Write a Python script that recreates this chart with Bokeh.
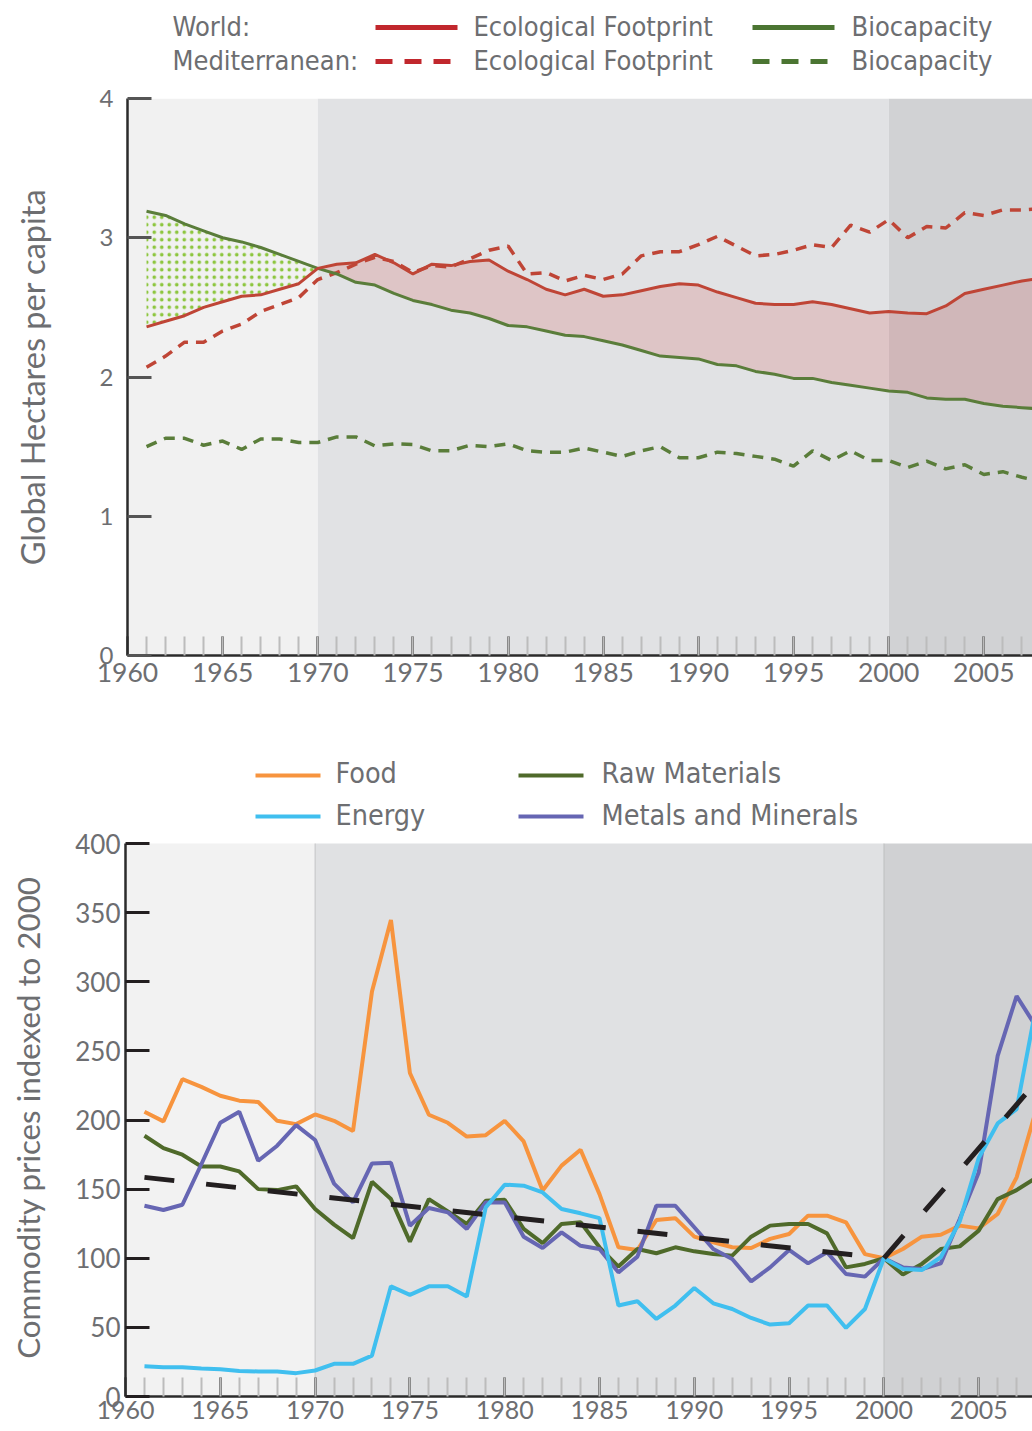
import math
from bokeh.plotting import figure
from bokeh.models import Range1d, BoxAnnotation, SingleIntervalTicker
from bokeh.layouts import column, row
from bokeh.embed import file_html
from bokeh.resources import INLINE
from bokeh.core.properties import value

# ---------------- data ----------------
years = list(range(1961, 2009))

world_bc = [3.19, 3.16, 3.10, 3.05, 3.00, 2.97, 2.93, 2.88, 2.83, 2.78,
            2.74, 2.68, 2.66, 2.60, 2.55, 2.52, 2.48, 2.46, 2.42, 2.37,
            2.36, 2.33, 2.30, 2.29, 2.26, 2.23, 2.19, 2.15, 2.14, 2.13,
            2.09, 2.08, 2.04, 2.02, 1.99, 1.99, 1.96, 1.94, 1.92, 1.90,
            1.89, 1.85, 1.84, 1.84, 1.81, 1.79, 1.78, 1.77]
world_ef = [2.36, 2.40, 2.44, 2.50, 2.54, 2.58, 2.59, 2.63, 2.67, 2.78,
            2.81, 2.82, 2.88, 2.82, 2.74, 2.81, 2.80, 2.83, 2.84, 2.76,
            2.70, 2.63, 2.59, 2.63, 2.58, 2.59, 2.62, 2.65, 2.67, 2.66,
            2.61, 2.57, 2.53, 2.52, 2.52, 2.54, 2.52, 2.49, 2.46, 2.47,
            2.46, 2.455, 2.51, 2.60, 2.63, 2.66, 2.69, 2.71]
med_ef = [2.07, 2.15, 2.25, 2.25, 2.33, 2.38, 2.47, 2.52, 2.57, 2.70,
          2.75, 2.81, 2.86, 2.83, 2.75, 2.80, 2.79, 2.85, 2.91, 2.94,
          2.74, 2.75, 2.69, 2.73, 2.70, 2.74, 2.87, 2.90, 2.90, 2.95,
          3.01, 2.94, 2.87, 2.88, 2.91, 2.95, 2.93, 3.09, 3.04, 3.13,
          3.00, 3.08, 3.07, 3.18, 3.16, 3.20, 3.20, 3.21]
med_bc = [1.50, 1.56, 1.56, 1.51, 1.54, 1.48, 1.555, 1.555, 1.53, 1.53,
          1.57, 1.57, 1.505, 1.52, 1.515, 1.47, 1.47, 1.51, 1.50, 1.52,
          1.47, 1.46, 1.46, 1.49, 1.46, 1.43, 1.47, 1.50, 1.42, 1.42,
          1.46, 1.45, 1.43, 1.41, 1.36, 1.47, 1.40, 1.47, 1.40, 1.40,
          1.35, 1.395, 1.34, 1.37, 1.30, 1.32, 1.28, 1.25]

food = [206, 199, 229.5, 224, 217.5, 214, 213, 199.4, 197, 204,
        199.4, 192, 293, 344.6, 234, 203.8, 198, 188, 189, 199.4,
        184.5, 149, 167, 178.5, 146.4, 107.9, 106, 127.7, 129, 115.6,
        111.5, 108, 107.4, 114, 117.5, 130.8, 130.8, 126, 103, 100,
        106.7, 115.6, 117, 123.6, 121.6, 132, 158.5, 206]
energy = [21.9, 21.2, 21.2, 20.2, 19.7, 18.5, 18.1, 18.1, 16.9, 18.8,
          23.6, 23.6, 29.6, 79.7, 73.5, 79.7, 79.7, 72.3, 136.8, 153.2,
          152.5, 147.6, 135.6, 132.5, 129, 65.8, 68.9, 56.1, 65.8, 78.5,
          67.4, 63.3, 56.8, 52, 53, 65.8, 65.8, 49.6, 63.3, 100,
          92.2, 91.5, 100.7, 126.7, 172.5, 197.5, 207.9, 280]
metals = [138, 134.9, 138.7, 168, 198, 206, 170.5, 181.4, 196.3, 185.5,
          154, 140.4, 168.6, 169, 123.5, 136.3, 133.2, 121.2, 140.4, 140.4,
          115.6, 107.4, 118.7, 109, 106.7, 89.8, 101.2, 138, 138, 122.4,
          106.7, 99.5, 83.3, 93.4, 106, 96.3, 104.3, 88.6, 86.7, 100,
          93.4, 92.2, 96.3, 128.4, 162, 246.4, 289.7, 268]
raw = [188.6, 179.7, 174.9, 166.4, 166.4, 162.8, 150, 149.3, 152, 135.6,
       124.3, 114.6, 155.3, 142.8, 112, 142.8, 133.9, 124.8, 141.6, 142.3,
       121.2, 111, 124.8, 126, 107.9, 94, 106.7, 103.6, 107.9, 105,
       103, 101.9, 115.6, 123.6, 124.8, 124.8, 118, 93.4, 95.9, 100,
       88.2, 95.9, 106.7, 108.6, 120, 142.8, 149.3, 158]
trend_years = [1961, 2000, 2008]
trend_vals = [158.5, 100, 227]

legend_rows = ["World:", "Mediterranean:"]
legend_series = ["Ecological Footprint", "Biocapacity"]
commodities = ["Food", "Energy", "Raw Materials", "Metals and Minerals"]
top_ylabel = "Global Hectares per capita"
bottom_ylabel = "Commodity prices indexed to 2000"

# ---------------- styles ----------------
GRAY = "#6d6e71"
RED = "#bf4536"
GREEN = "#5a7d3a"
RED_LEG = "#c1272d"
GREEN_LEG = "#4b7532"
C_FOOD = "#f7943e"
C_ENERGY = "#40bfef"
C_RAW = "#4f6a2a"
C_METAL = "#6666b3"
TICK_FONT = "Lato"
LEG_FONT = "'Liberation Sans Narrow', 'DejaVu Sans Condensed', Lato"
W = 1032
LABW = 60  # width of the strip carrying the bottom y-axis title


def blank_fig(w, h, y0=0):
    p = figure(width=w, height=h, x_range=Range1d(0, w), y_range=Range1d(y0 + h, y0),
               x_axis_type=None, y_axis_type=None, toolbar_location=None,
               output_backend="svg", min_border=0, frame_align=False)
    p.outline_line_color = None
    p.grid.visible = False
    return p


# ---------- top legend ----------
L1 = blank_fig(W, 78)
L1.text(x=[172, 172], y=[26, 60], text=legend_rows, text_font=value(LEG_FONT),
        text_font_size="27px", text_color=GRAY, text_baseline="middle", text_align="left")
L1.text(x=[473, 473, 851, 851], y=[26, 60, 26, 60],
        text=[legend_series[0], legend_series[0], legend_series[1], legend_series[1]],
        text_font=value(LEG_FONT), text_font_size="27px", text_color=GRAY,
        text_baseline="middle", text_align="left")
L1.segment(x0=[375], y0=[27], x1=[457], y1=[27], line_color=RED_LEG, line_width=5)
L1.segment(x0=[375], y0=[61], x1=[457], y1=[61], line_color=RED_LEG, line_width=5, line_dash="17 12")
L1.segment(x0=[752], y0=[27], x1=[834], y1=[27], line_color=GREEN_LEG, line_width=5)
L1.segment(x0=[752], y0=[61], x1=[834], y1=[61], line_color=GREEN_LEG, line_width=5, line_dash="17 12")


def style_axes(p, xfont, yfont, ystand, ytick_color):
    p.outline_line_color = None
    p.grid.visible = False
    xa = p.xaxis[0]
    xa.ticker = SingleIntervalTicker(interval=5, num_minor_ticks=5)
    xa.major_tick_in = 19
    xa.major_tick_out = 0
    xa.minor_tick_in = 19
    xa.minor_tick_out = 0
    xa.major_tick_line_color = "#2b2b2b"
    xa.major_tick_line_width = 2.5
    xa.minor_tick_line_color = "#bcbcbc"
    xa.minor_tick_line_width = 2
    xa.axis_line_color = "#2b2b2b"
    xa.axis_line_width = 2.5
    xa.major_label_text_font = TICK_FONT
    xa.major_label_text_font_size = xfont
    xa.major_label_text_color = GRAY
    ya = p.yaxis[0]
    ya.major_tick_in = 24
    ya.major_tick_out = 0
    ya.minor_tick_line_color = None
    ya.major_tick_line_color = ytick_color
    ya.major_tick_line_width = 3
    ya.axis_line_color = "#2b2b2b"
    ya.axis_line_width = 2.5
    ya.major_label_text_font = TICK_FONT
    ya.major_label_text_font_size = yfont
    ya.major_label_text_color = GRAY
    ya.major_label_standoff = ystand


# ---------- top chart ----------
p1 = figure(width=W, height=617, x_range=Range1d(1960, 1960 + 905 / 19.03), y_range=Range1d(0, 4),
            toolbar_location=None, output_backend="svg", frame_align=False,
            min_border_left=127, min_border_right=0, min_border_top=20, min_border_bottom=40)
style_axes(p1, "26.5px", "24px", 14, "#555555")
ya1 = p1.yaxis[0]
ya1.axis_label = top_ylabel
ya1.axis_label_text_font = TICK_FONT
ya1.axis_label_text_font_size = "32.5px"
ya1.axis_label_text_font_style = "normal"
ya1.axis_label_text_color = GRAY
ya1.axis_label_standoff = 45
p1.xaxis[0].major_label_standoff = 7
ya1.ticker = SingleIntervalTicker(interval=1, num_minor_ticks=0)
for l, r, c in [(None, 1970, "#f1f1f1"), (1970, 2000, "#e1e2e4"), (2000, None, "#d1d2d4")]:
    p1.add_layout(BoxAnnotation(left=l, right=r, fill_color=c, fill_alpha=1, line_color=None, level="underlay"))

p1.varea(x=years[:10], y1=world_ef[:10], y2=world_bc[:10], fill_color=None, fill_alpha=0,
         hatch_pattern="dot", hatch_color="#8dc63f", hatch_scale=7.5, hatch_weight=2, hatch_alpha=1)
p1.varea(x=years[9:], y1=world_bc[9:], y2=world_ef[9:], fill_color="#d03838", fill_alpha=0.17)
p1.line(years, med_bc, line_color=GREEN, line_width=3.5, line_dash="11 8")
p1.line(years, med_ef, line_color=RED, line_width=3.5, line_dash="11 8")
p1.line(years, world_bc, line_color=GREEN, line_width=3)
p1.line(years, world_ef, line_color=RED, line_width=3)

# ---------- bottom y-axis title strip (screen coordinates 695..1431) ----------
LAB = blank_fig(LABW, 736, y0=695)
LAB.text(x=[27], y=[1117], text=[bottom_ylabel], angle=math.pi / 2,
         text_font=value(TICK_FONT), text_font_size="31.3px", text_color=GRAY,
         text_align="center", text_baseline="middle")

# ---------- bottom chart (legend lives in the space above the 400 line) ----------
y_top = 400 + 148 / (553 / 400)
p2 = figure(width=W - LABW, height=736, x_range=Range1d(1960, 1960 + 907 / 18.96), y_range=Range1d(0, y_top),
            toolbar_location=None, output_backend="svg", frame_align=False,
            min_border_left=125 - LABW, min_border_right=0, min_border_top=0, min_border_bottom=35)
p2.extra_x_ranges = {"px": Range1d(125, 1032)}
p2.extra_y_ranges = {"py": Range1d(1396, 695)}
style_axes(p2, "25px", "26px", 5, "#231f20")
p2.xaxis[0].major_label_standoff = 4
p2.yaxis[0].ticker = SingleIntervalTicker(interval=50, num_minor_ticks=0)
p2.yaxis[0].bounds = (0, 400)
for l, r, c in [(None, 1970, "#f2f2f2"), (1970, 2000, "#e0e1e3"), (2000, None, "#d0d1d3")]:
    p2.add_layout(BoxAnnotation(left=l, right=r, top=400, fill_color=c, fill_alpha=1,
                                line_color=None, level="underlay"))
for loc in (1970, 2000):
    p2.add_layout(BoxAnnotation(left=loc, right=loc, top=400, fill_alpha=0,
                                line_color="#a9aaad", line_width=1, level="underlay"))

p2.line(years, food, line_color=C_FOOD, line_width=4)
p2.line(years, raw, line_color=C_RAW, line_width=4)
p2.line(years, metals, line_color=C_METAL, line_width=4)
p2.line(years, energy, line_color=C_ENERGY, line_width=4)
p2.line(trend_years, trend_vals, line_color="#231f20", line_width=5, line_dash="30 32")

p2.text(x=[335, 335, 601, 601], y=[773, 815, 773, 815],
        text=[commodities[0], commodities[1], commodities[2], commodities[3]],
        text_font=value(LEG_FONT), text_font_size="28.5px", text_color=GRAY,
        text_baseline="middle", text_align="left", x_range_name="px", y_range_name="py")
p2.segment(x0=[255, 255, 518, 518], y0=[775, 816, 775, 816], x1=[320, 320, 583, 583], y1=[775, 816, 775, 816],
           line_color=[C_FOOD, C_ENERGY, C_RAW, C_METAL], line_width=4,
           x_range_name="px", y_range_name="py")

layout = column(L1, p1, row(LAB, p2, spacing=0), spacing=0)
open("out.html", "w").write(file_html(layout, INLINE))
